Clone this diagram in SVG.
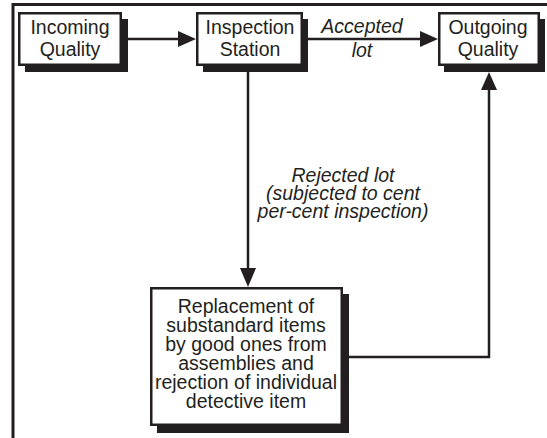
<svg xmlns="http://www.w3.org/2000/svg" width="547" height="438" viewBox="0 0 547 438">
<defs>
<style>
.box{fill:#fff;stroke:#231f20;stroke-width:2.5}
.sh{fill:#231f20}
.t{font-family:"Liberation Sans",Arial,sans-serif;font-size:19.5px;fill:#231f20;text-anchor:middle}
.i{font-style:italic}
.ln{fill:none;stroke:#231f20;stroke-width:2.5}
.ah{fill:#231f20}
</style>
</defs>
<rect width="547" height="438" fill="#fff"/>
<g id="frame">
<line x1="12" y1="4.5" x2="547" y2="4.5" stroke="#231f20" stroke-width="3"/>
<line x1="13" y1="3" x2="13" y2="438" stroke="#231f20" stroke-width="3"/>
</g>
<g id="connectors">
<line class="ln" x1="128" y1="39" x2="182" y2="39"/>
<polygon class="ah" points="196,39 178,31 178,47"/>
<line class="ln" x1="308" y1="39" x2="424" y2="39"/>
<polygon class="ah" points="438,39 420,31 420,47"/>
<line class="ln" x1="248" y1="72" x2="248" y2="272"/>
<polygon class="ah" points="248,287 240,268 256,268"/>
<polyline class="ln" points="349,357 489,357 489,86"/>
<polygon class="ah" points="489,72 481,90 497,90"/>
<text class="t i" x="362" y="33">Accepted</text>
<text class="t i" x="362" y="57">lot</text>
<text class="t i" x="343" y="182">Rejected lot</text>
<text class="t i" x="343" y="200">(subjected to cent</text>
<text class="t i" x="343" y="218">per-cent inspection)</text>
</g>
<g id="incoming">
<rect class="sh" x="25" y="19" width="103" height="53"/>
<rect class="box" x="19.25" y="13.25" width="101.5" height="51.5"/>
<text class="t" x="70" y="34">Incoming</text>
<text class="t" x="70" y="56">Quality</text>
</g>
<g id="inspection">
<rect class="sh" x="203" y="19" width="105" height="53"/>
<rect class="box" x="197.25" y="13.25" width="104.5" height="51.5"/>
<text class="t" x="250" y="34">Inspection</text>
<text class="t" x="250" y="56">Station</text>
</g>
<g id="outgoing">
<rect class="sh" x="444" y="19" width="101" height="53"/>
<rect class="box" x="439.25" y="13.25" width="99.5" height="51.5"/>
<text class="t" x="488" y="34">Outgoing</text>
<text class="t" x="488" y="56">Quality</text>
</g>
<g id="replacement">
<rect class="sh" x="157" y="294" width="192" height="139"/>
<rect class="box" x="151.25" y="288.25" width="190.5" height="136.5"/>
<text class="t" x="246" y="313">Replacement of</text>
<text class="t" x="246" y="332">substandard items</text>
<text class="t" x="246" y="351">by good ones from</text>
<text class="t" x="246" y="370">assemblies and</text>
<text class="t" x="246" y="389">rejection of individual</text>
<text class="t" x="246" y="408">detective item</text>
</g>
</svg>
